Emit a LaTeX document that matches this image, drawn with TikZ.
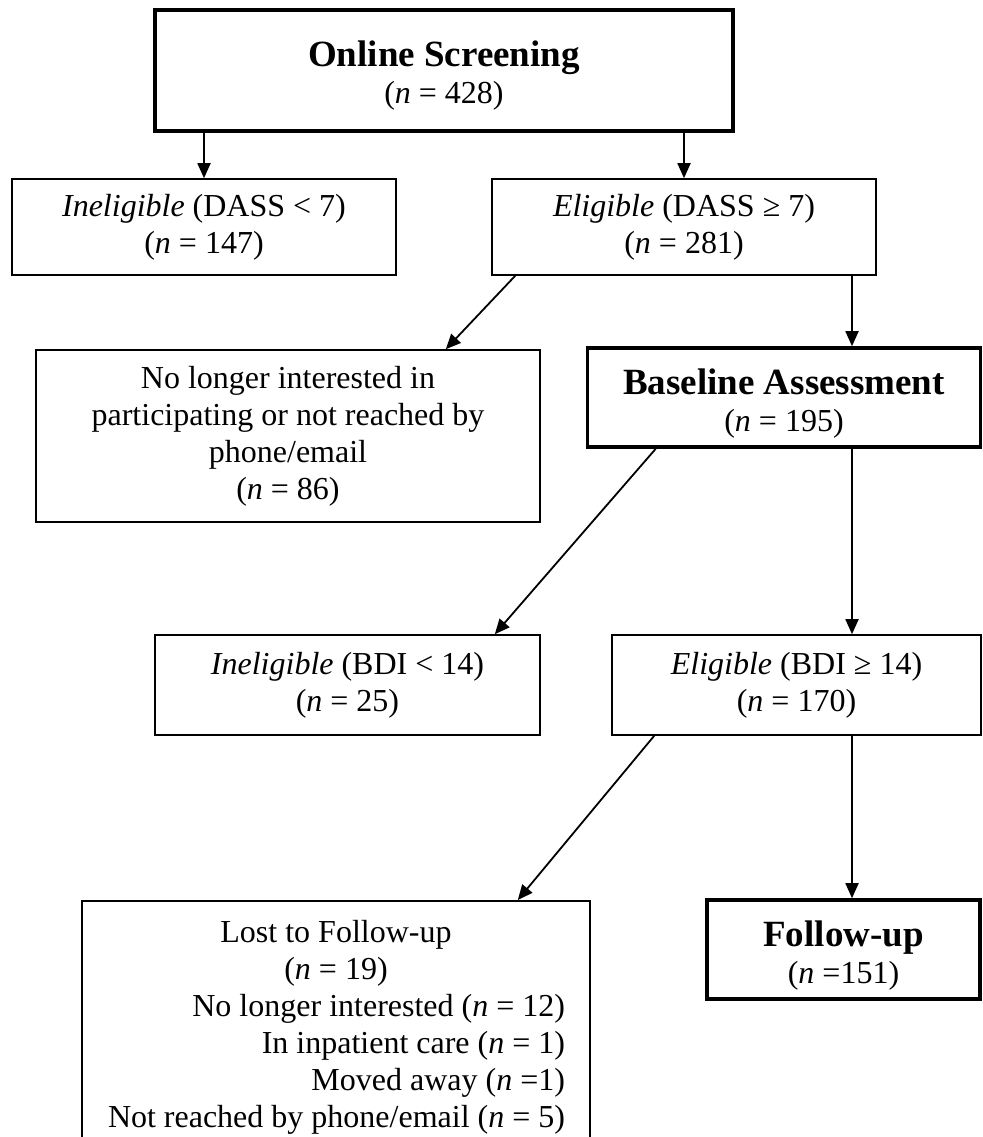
\documentclass[tikz,border=0pt]{standalone}
\usepackage{fontspec}
\setmainfont{Liberation Serif}
\usetikzlibrary{arrows.meta,calc}
\begin{document}
\begin{tikzpicture}[x=1pt,y=-1pt,
  box/.style={draw, line width=1.6pt, inner sep=0pt, align=center,
    font=\fontsize{32}{37}\selectfont},
  bigbox/.style={box, line width=3.6pt},
  arr/.style={line width=1.8pt, -{Triangle[length=15pt,width=13pt]}}]
\useasboundingbox (0,0) rectangle (982,1137);
\clip (0,0) rectangle (982,1137);
\newcommand{\ttlfont}{\fontsize{37}{40}\selectfont\bfseries}
% row 1
\node[bigbox, minimum width=578, minimum height=121] (online) at (444,70.5)
  {\rule{0pt}{35pt}{\ttlfont Online Screening}\\(\textit{n} = 428)};
% row 2
\node[box, minimum width=384, minimum height=96] (inel1) at (204,227)
  {\textit{Ineligible} (DASS < 7)\\(\textit{n} = 147)};
\node[box, minimum width=384, minimum height=96] (elig1) at (684,227)
  {\textit{Eligible} (DASS ≥ 7)\\(\textit{n} = 281)};
% row 3
\node[box, minimum width=504, minimum height=172] (nolonger) at (288,436)
  {No longer interested in\\participating or not reached by\\phone/email\\(\textit{n} = 86)};
\node[bigbox, minimum width=393, minimum height=99] (base) at (784,397.5)
  {\rule{0pt}{37pt}{\ttlfont Baseline Assessment}\\(\textit{n} = 195)};
% row 4
\node[box, minimum width=385, minimum height=100] (inel2) at (347.5,685)
  {\textit{Ineligible} (BDI < 14)\\(\textit{n} = 25)};
\node[box, minimum width=369, minimum height=100] (elig2) at (796.5,685)
  {\textit{Eligible} (BDI ≥ 14)\\(\textit{n} = 170)};
% row 5
\node[bigbox, minimum width=273, minimum height=99] (follow) at (843.5,949.5)
  {\rule{0pt}{37pt}{\ttlfont Follow-up}\\(\textit{n} =151)};
\node[box, anchor=north, minimum width=508, minimum height=270] (lost) at (336,900)
  {\parbox[t][262pt][t]{500pt}{\vspace*{15pt}\centering Lost to Follow-up\\(\textit{n} = 19)\par
   \raggedleft No longer interested (\textit{n} = 12)\kern21pt\\
   In inpatient care (\textit{n} = 1)\kern21pt\\
   Moved away (\textit{n} =1)\kern21pt\\
   Not reached by phone/email (\textit{n} = 5)\kern21pt\par}};
% helper column
\coordinate (cx) at (852,0);
% connectors
\draw[arr] (inel1.north |- online.south) -- (inel1.north);
\draw[arr] (elig1.north |- online.south) -- (elig1.north);
\draw[arr] ($(elig1.south west)+(24,0)$) -- ($(nolonger.north east)+(-95,0)$);
\draw[arr] (cx |- elig1.south) -- (cx |- base.north);
\draw[arr] ($(base.south west)+(70,0)$) -- ($(inel2.north east)+(-46,0)$);
\draw[arr] (cx |- base.south) -- (cx |- elig2.north);
\draw[arr] ($(elig2.south west)+(43,0)$) -- ($(lost.north east)+(-73,0)$);
\draw[arr] (cx |- elig2.south) -- (cx |- follow.north);
\end{tikzpicture}
\end{document}
